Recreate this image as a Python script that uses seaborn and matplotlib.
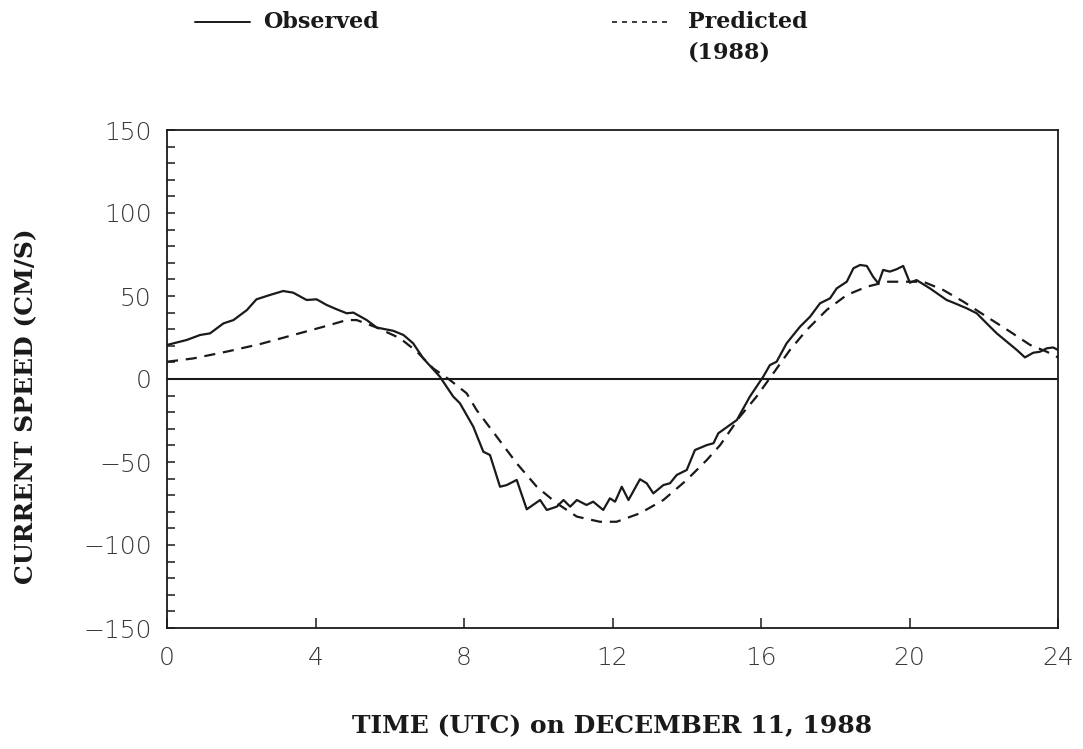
import numpy as np
import pandas as pd
import matplotlib
matplotlib.use("Agg")
import matplotlib.pyplot as plt
import seaborn as sns
from matplotlib.ticker import MultipleLocator

# Observed current speed (cm/s) vs time (h UTC)
obs_t = [0.0, 0.53, 0.89, 1.16, 1.52, 1.79, 2.15, 2.41, 2.77, 3.13, 3.4, 3.76, 4.03, 4.3, 4.57,
         4.84, 5.02, 5.38, 5.65, 6.1, 6.37, 6.63, 6.9, 7.35, 7.71, 7.89, 8.25, 8.52, 8.7, 8.97,
         9.15, 9.42, 9.69, 10.05, 10.23, 10.5, 10.68, 10.86, 11.04, 11.3, 11.48, 11.75, 11.93,
         12.07, 12.25, 12.43, 12.74, 12.92, 13.1, 13.37, 13.55, 13.73, 14.0, 14.22, 14.54, 14.72,
         14.85, 15.35, 15.7, 16.06, 16.24, 16.42, 16.69, 17.05, 17.32, 17.59, 17.86, 18.04, 18.31,
         18.49, 18.67, 18.85, 19.02, 19.16, 19.29, 19.47, 19.65, 19.83, 20.01, 20.19, 20.55, 21.0,
         21.18, 21.54, 21.81, 22.08, 22.35, 22.62, 22.89, 23.11, 23.33, 23.51, 23.7, 23.87, 24.0]
obs_v = [20.5, 23.5, 26.5, 27.5, 33.5, 35.5, 41.5, 48.0, 50.6, 53.0, 52.0, 47.6, 48.0, 44.6, 42.0,
         39.6, 40.0, 35.5, 31.0, 29.0, 26.5, 21.5, 12.5, 1.4, -10.6, -14.6, -28.7, -43.8, -45.8, -64.9,
         -63.9, -60.8, -78.5, -72.9, -78.9, -76.9, -72.9, -76.9, -72.9, -75.9, -73.9, -78.9, -71.9,
         -73.9, -64.9, -72.9, -60.4, -62.8, -68.9, -63.9, -62.8, -57.8, -54.8, -42.8, -39.8, -38.7,
         -32.7, -24.7, -10.6, 1.4, 8.4, 10.4, 21.5, 31.5, 37.5, 45.6, 48.6, 54.6, 58.6,
         66.7, 68.7, 68.1, 61.6, 57.6, 65.7, 64.7, 66.1, 68.1, 58.0, 59.6, 54.6, 47.6,
         46.0, 42.6, 39.6, 33.5, 27.5, 22.5, 17.5, 13.0, 15.8, 16.4, 18.5, 19.0, 17.5]

# Predicted (1988) current speed
pred_t = [0.0, 0.71, 1.61, 2.5, 3.4, 4.3, 4.84, 5.11, 5.65, 6.28, 6.73, 7.17, 7.62, 8.07, 8.34,
          8.88, 9.42, 9.96, 10.5, 11.04, 11.66, 12.11, 12.74, 13.37, 14.0, 14.54, 14.9, 15.43,
          15.88, 16.33, 16.78, 17.23, 17.77, 18.31, 18.85, 19.39, 19.93, 20.37, 20.91, 21.45,
          22.08, 22.71, 23.25, 23.7, 24.0]
pred_v = [10.4, 12.4, 16.5, 21.0, 26.5, 32.0, 35.5, 35.5, 31.0, 24.5, 16.5, 6.4, -0.6, -8.6, -18.7,
          -34.7, -50.8, -64.9, -74.9, -82.9, -86.0, -86.0, -80.9, -72.9, -60.8, -48.8, -39.8, -22.7,
          -10.6, 3.4, 17.5, 29.5, 41.6, 50.6, 55.6, 58.6, 58.6, 58.6, 53.6, 46.6,
          37.5, 28.5, 20.5, 16.4, 13.0]

x_ticks = [0, 4, 8, 12, 16, 20, 24]
y_ticks = [-150, -100, -50, 0, 50, 100, 150]

sns.set_style("ticks")
plt.rcParams['font.family'] = ['DejaVu Sans']

W, H = 1083, 749
fig = plt.figure(figsize=(W / 100, H / 100), dpi=100)
ax = fig.add_axes([167 / W, 1 - 628 / H, (1058 - 167) / W, (628 - 130) / H])

obs_df = pd.DataFrame({"t": obs_t, "v": obs_v})
pred_df = pd.DataFrame({"t": pred_t, "v": pred_v})
sns.lineplot(data=obs_df, x="t", y="v", ax=ax, color="#1a1a1a", lw=1.6, sort=False)
sns.lineplot(data=pred_df, x="t", y="v", ax=ax, color="#1a1a1a", lw=1.6, sort=False,
             linestyle=(0, (5, 3.5)))
ax.axhline(0, color="#1a1a1a", lw=1.5)

ax.set_xlim(0, 24)
ax.set_ylim(-150, 150)
ax.set_xticks(x_ticks)
ax.set_yticks(y_ticks)
ax.yaxis.set_minor_locator(MultipleLocator(10))
ax.tick_params(axis="x", direction="in", length=7, width=1.1, pad=13, labelsize=18,
               labelcolor="#3a3a3a", color="#1a1a1a")
ax.tick_params(axis="y", which="both", direction="in", length=6, width=1.1, pad=11,
               labelsize=18, labelcolor="#3a3a3a", color="#1a1a1a")
for lab in ax.get_xticklabels() + ax.get_yticklabels():
    lab.set_fontweight("light")
ax.set_xlabel("")
ax.set_ylabel("")
for s in ax.spines.values():
    s.set_linewidth(1.3)
    s.set_color("#1a1a1a")
ax.set_yticklabels([f"\u2212{abs(v)}" if v < 0 else str(v) for v in y_ticks])
for lab in ax.get_yticklabels():
    lab.set_fontweight("light")

serif = dict(family=["DejaVu Serif"], weight="bold", color="#1a1a1a")
# legend drawn as figure annotations
fig.add_artist(plt.Line2D([195 / W, 250 / W], [1 - 22 / H, 1 - 22 / H], color="#1a1a1a", lw=1.4))
fig.text(263 / W, 1 - 22 / H, "Observed", va="center", ha="left", fontsize=16, **serif)
fig.add_artist(plt.Line2D([612 / W, 672 / W], [1 - 22 / H, 1 - 22 / H], color="#1a1a1a", lw=1.2,
                          linestyle=(0, (3, 3))))
fig.text(688 / W, 1 - 22 / H, "Predicted", va="center", ha="left", fontsize=16, **serif)
fig.text(688 / W, 1 - 53 / H, "(1988)", va="center", ha="left", fontsize=16, **serif)

fig.text(612 / W, 1 - 726 / H, "TIME (UTC) on DECEMBER 11, 1988", va="center", ha="center",
         fontsize=18, **serif)
fig.text(26 / W, 1 - 406 / H, "CURRENT SPEED (CM/S)", va="center", ha="center",
         rotation=90, fontsize=18, **serif)

fig.savefig("out.png", dpi=100, facecolor="white")
